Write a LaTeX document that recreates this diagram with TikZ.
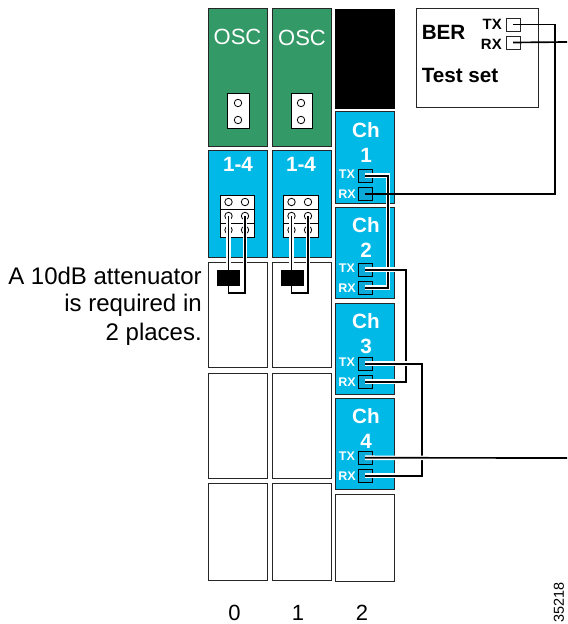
\documentclass[tikz,border=0pt]{standalone}
\usepackage{fontspec}
\setmainfont{Liberation Sans}
\definecolor{oscgreen}{HTML}{339966}
\definecolor{chblue}{HTML}{00B9E6}
\definecolor{portblue}{HTML}{0BA9D8}
\definecolor{edge}{HTML}{262626}
\newcommand\bx[6]{\pgfmathsetmacro\bxw{((#4)-(#2))*.75}\pgfmathsetmacro\bxh{((#5)-(#3))*.75}%
  \node[#6,minimum width=\bxw pt,minimum height=\bxh pt,inner sep=0pt,outer sep=0pt] (#1) at ({((#2)+(#4))/2},{((#3)+(#5))/2}) {};}
\tikzset{
  slotbox/.style={draw=edge,line width=.75pt,fill=white},
  oscbox/.style={slotbox,fill=oscgreen},
  bluebox/.style={slotbox,fill=chblue},
  blackbox/.style={draw=black,fill=black},
  jackbox/.style={draw=black,line width=.7pt,fill=white},
  portbox/.style={draw=black,line width=.7pt,fill=portblue},
  berport/.style={draw=edge,line width=.6pt,fill=white},
  hole/.style={circle,draw=black,line width=.6pt,fill=white,minimum size=5.6pt,inner sep=0pt},
  cable/.style={draw=black,line width=1.25pt,preaction={draw=white,line width=3.4pt}},
  bare/.style={draw=black,line width=1.25pt},
  oscl/.style={text=white,font=\fontsize{16.5}{18}\selectfont},
  chl/.style={text=white,font=\fontsize{15.5}{17}\selectfont\bfseries},
  portl/.style={text=white,font=\fontsize{9.4}{10}\selectfont\bfseries},
  berl/.style={text=black,inner sep=0pt,font=\fontsize{15.5}{17}\selectfont\bfseries},
  bertx/.style={text=black,inner sep=0pt,font=\fontsize{11.2}{12}\selectfont\bfseries},
  plain/.style={text=black,inner sep=0pt,font=\fontsize{18}{20}\selectfont},
  digitl/.style={text=black,inner sep=0pt,font=\fontsize{16.5}{18}\selectfont},
}
\begin{document}
\begin{tikzpicture}[x=.75pt,y=-.75pt]
\useasboundingbox (0,0) rectangle (567,624);
% slots
\bx{osca}{208}{9}{267}{147}{oscbox}
\bx{oscb}{272}{9}{331}{147}{oscbox}
\bx{blk}{335}{9}{394}{108}{blackbox}
\bx{fa}{208}{151}{267}{257}{bluebox}
\bx{fb}{272}{151}{331}{257}{bluebox}
\bx{sa1}{208}{262}{267}{367}{slotbox}
\bx{sb1}{272}{262}{331}{367}{slotbox}
\bx{sa2}{208}{373}{267}{478}{slotbox}
\bx{sb2}{272}{373}{331}{478}{slotbox}
\bx{sa3}{208}{483}{267}{580}{slotbox}
\bx{sb3}{272}{483}{331}{580}{slotbox}
\bx{ch1}{335}{112}{394}{203}{bluebox}
\bx{ch2}{335}{207}{394}{298}{bluebox}
\bx{ch3}{335}{303}{394}{394}{bluebox}
\bx{ch4}{335}{398}{394}{489}{bluebox}
\bx{sc5}{335}{494}{394}{581}{slotbox}
% OSC
\node[oscl] (lo1) at (237.5,37) {OSC};
\node[oscl] (lo2) at (302,38) {OSC};
\bx{oj1}{227}{93}{249}{128}{jackbox}
\bx{oj2}{291}{93}{312}{128}{jackbox}
\node[hole] (oh1) at (238,103) {};
\node[hole] (oh2) at (238,120) {};
\node[hole] (oh3) at (301,103) {};
\node[hole] (oh4) at (301,120) {};
% 1-4
\node[chl] (lf1) at (238,164) {1-4};
\node[chl] (lf2) at (301,164) {1-4};
\bx{ja1}{220}{195}{254}{209}{jackbox}
\bx{ja2}{220}{209}{254}{223}{jackbox}
\bx{ja3}{220}{223}{254}{237}{jackbox}
\bx{jb1}{283}{195}{318}{209}{jackbox}
\bx{jb2}{283}{209}{318}{223}{jackbox}
\bx{jb3}{283}{223}{318}{237}{jackbox}
\foreach \n/\xx in {a/228.5,b/245,c/291.5,d/308}{
  \node[hole] (h\n1) at (\xx,202) {};
  \node[hole] (h\n2) at (\xx,216) {};
  \node[hole] (h\n3) at (\xx,230) {};
}
\bx{ata}{217}{270}{239}{285}{blackbox}
\bx{atb}{281}{270}{303}{285}{blackbox}
\draw[cable] (ha2.center) -- (ata.north -| ha2.center);
\draw[cable] (hc2.center) -- (atb.north -| hc2.center);
\draw[cable] (hb2.center) -- ++(0,77) -| (ata.south -| ha2.center);
\draw[cable] (hd2.center) -- ++(0,77) -| (atb.south -| hc2.center);
\bx{ata2}{217}{270}{239}{285}{blackbox}
\bx{atb2}{281}{270}{303}{285}{blackbox}
% channels
\foreach \c/\t/\ty in {1/112/169,2/207/263,3/303/357,4/398/451}{
  \node[chl] (cl\c) at (366,\t+18) {Ch};
  \node[chl] (dl\c) at (366,\t+43) {\c};
  \bx{c\c tx}{358}{\ty}{372}{\ty+13.5}{portbox}
  \bx{c\c rx}{358}{\ty+18}{372}{\ty+31.5}{portbox}
  \node[portl] (tl\c) at (347,\ty+5.5) {TX};
  \node[portl] (rl\c) at (347,\ty+25) {RX};
}
% BER
\bx{ber}{416}{9}{538}{108}{slotbox}
\node[berl,anchor=west] (lb) at (421.5,32) {BER};
\node[berl,anchor=west] (lt) at (421.5,75) {Test set};
\node[bertx,anchor=east] (ltx) at (502,24) {TX};
\node[bertx,anchor=east] (lrx) at (502,44) {RX};
\bx{ptx}{506}{18}{520}{31}{berport}
\bx{prx}{506}{36}{520}{49}{berport}
% connectors
\coordinate (outa) at (567,42);
\coordinate (outb) at (567,458);
\draw[cable] (c1tx.center) -- ++(23,0) |- (c2rx.center);
\draw[cable] (c2tx.center) -- ++(41,0) |- (c3rx.center);
\draw[cable] (c3tx.center) -- ++(57,0) |- (c4rx.center);
\draw[cable] (c4tx.center) -- (outb);
\draw[bare] (ptx.center) -- ++(42,0) |- (c1rx.center);
\draw[bare] (prx.center) -- (outa);
% outer text
\node[plain,anchor=east] (n1) at (202,276) {A 10dB attenuator};
\node[plain,anchor=east] (n2) at (202,305) {is required in};
\node[plain,anchor=east] (n3) at (202,334) {2 places.};
\node[digitl] (s0) at (234.5,613) {0};
\node[digitl] (s1) at (298,613) {1};
\node[digitl] (s2) at (362,613) {2};
\node[text=black,inner sep=0pt,font=\fontsize{10.8}{12}\selectfont,rotate=90,anchor=west] (fig) at (559,623) {35218};
\end{tikzpicture}
\end{document}
